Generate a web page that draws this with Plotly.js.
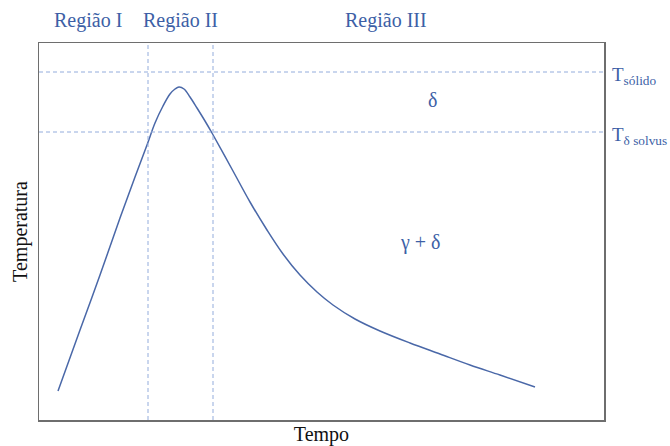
<!DOCTYPE html>
<html>
<head>
<meta charset="utf-8">
<script src="https://cdn.plot.ly/plotly-3.0.1.min.js"></script>
<style>html,body{margin:0;padding:0;background:#fff;}#chart{width:670px;height:446px;}</style>
</head>
<body>
<div id="chart"></div>
<script>
// Curve: time vs temperature (arbitrary units)
const tempo = [19, 41, 61, 81, 96, 108, 116, 124, 131, 136, 140, 145, 151, 158, 166, 173, 194, 211, 228, 244, 261, 278, 294, 316, 341, 371, 401, 431, 461, 496];
const temperatura = [29, 90, 145, 202, 243, 275, 297, 314, 326, 331, 333, 331, 323, 312, 299, 287, 249, 218, 190, 166, 145, 128, 115, 101, 89, 77, 66, 55, 45, 33];

// Reference levels
const T_solido = 348;
const T_solvus = 288;
// Region boundaries (time)
const regionBounds = [109, 174];
const regionLabels = ["Região I", "Região II", "Região III"];
const regionLabelX = [0.087, 0.25, 0.614]; // paper fractions

const blue = "#3d5fa6";
const dashBlue = "#93acdc";
const serif = "Liberation Serif, Times New Roman, serif";

const shapes = [];
[T_solido, T_solvus].forEach(v => shapes.push({
  type: "line", xref: "paper", yref: "y", x0: 0, x1: 1, y0: v, y1: v,
  line: {color: dashBlue, width: 1, dash: "4px,3px"}
}));
regionBounds.forEach(v => shapes.push({
  type: "line", xref: "x", yref: "paper", x0: v, x1: v, y0: 0, y1: 1,
  line: {color: dashBlue, width: 1, dash: "4px,3px"}
}));

const annotations = [];
regionLabels.forEach((t, i) => annotations.push({
  x: regionLabelX[i], y: 1.061, xref: "paper", yref: "paper", text: t, showarrow: false,
  font: {family: serif, size: 20, color: blue}, xanchor: "center", yanchor: "middle"
}));
annotations.push({x: 1.011, y: 0.912, xref: "paper", yref: "paper", text: "T<sub>sólido</sub>", showarrow: false,
  font: {family: serif, size: 19, color: blue}, xanchor: "left", yanchor: "middle"});
annotations.push({x: 1.011, y: 0.753, xref: "paper", yref: "paper", text: "T<sub>δ solvus</sub>", showarrow: false,
  font: {family: serif, size: 19, color: blue}, xanchor: "left", yanchor: "middle"});
annotations.push({x: 393, y: 320, xref: "x", yref: "y", text: "δ", showarrow: false,
  font: {family: serif, size: 20, color: blue}, xanchor: "center", yanchor: "middle"});
annotations.push({x: 381, y: 178, xref: "x", yref: "y", text: "γ + δ", showarrow: false,
  font: {family: serif, size: 20, color: blue}, xanchor: "center", yanchor: "middle"});

const data = [{
  x: tempo, y: temperatura, type: "scatter", mode: "lines",
  line: {color: "#4a68a8", width: 1.5, shape: "spline", smoothing: 1},
  hoverinfo: "skip"
}];

const layout = {
  width: 670, height: 446,
  margin: {l: 39, r: 66, t: 43, b: 26, pad: 0},
  paper_bgcolor: "#fff", plot_bgcolor: "#fff",
  showlegend: false,
  xaxis: {
    range: [0, 565], showgrid: false, zeroline: false, showticklabels: false, ticks: "",
    showline: true, mirror: true, linecolor: "#6e6e6e", linewidth: 1.5,
    title: {text: "Tempo", font: {family: serif, size: 20, color: "#111"}, standoff: 8}
  },
  yaxis: {
    range: [0, 377], showgrid: false, zeroline: false, showticklabels: false, ticks: "",
    showline: true, mirror: true, linecolor: "#6e6e6e", linewidth: 1.5,
    title: {text: "Temperatura", font: {family: serif, size: 20, color: "#111"}, standoff: 4}
  },
  shapes: shapes,
  annotations: annotations
};

Plotly.newPlot("chart", data, layout, {displayModeBar: false, staticPlot: true});
</script>
</body>
</html>
